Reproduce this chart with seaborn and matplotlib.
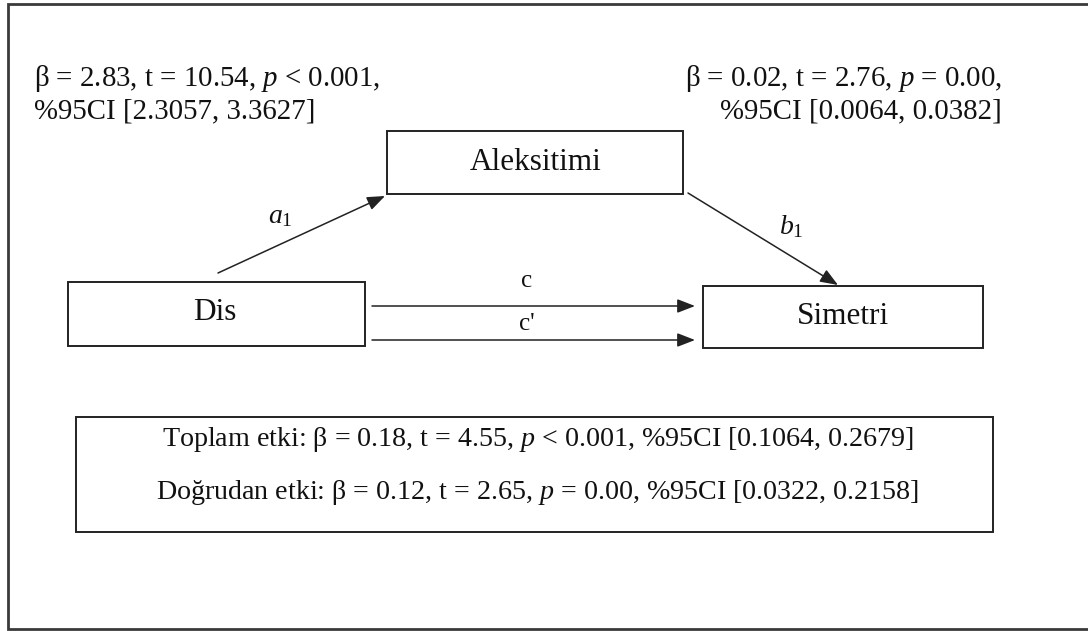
import seaborn as sns
import matplotlib
matplotlib.use("Agg")
import matplotlib.pyplot as plt
from matplotlib.patches import Rectangle

# model variables
node_names = ["Dis", "Aleksitimi", "Simetri"]
path_names = ["$a_1$", "$b_1$", "c", "c'"]

# path statistics
stats_a = ["β = 2.83, t = 10.54, $p$ < 0.001,", "%95CI [2.3057, 3.3627]"]
stats_b = ["β = 0.02, t = 2.76, $p$ = 0.00,", "%95CI [0.0064, 0.0382]"]
effects = ["Toplam etki: β = 0.18, t = 4.55, $p$ < 0.001, %95CI [0.1064, 0.2679]",
           "Doğrudan etki: β = 0.12, t = 2.65, $p$ = 0.00, %95CI [0.0322, 0.2158]"]

sns.set_theme(style="white")
plt.rcParams['font.family'] = ['Liberation Serif', 'DejaVu Serif']
plt.rcParams['mathtext.fontset'] = 'custom'
plt.rcParams['mathtext.rm'] = 'Liberation Serif'
plt.rcParams['mathtext.it'] = 'Liberation Serif:italic'

W, H = 1088, 631
fig = plt.figure(figsize=(W / 100, H / 100), dpi=100)
ax = fig.add_axes([0, 0, 1, 1])
ax.set_xlim(0, W)
ax.set_ylim(H, 0)
ax.axis('off')

# outer frame (open on the right)
frame_col = '#3a3a3a'
ax.plot([W, 8, 8, W], [4, 4, 629, 629], color=frame_col, lw=2, solid_joinstyle='miter')

# boxes: x0, y0, x1, y1
boxes = {
    "Dis": (68, 282, 365, 346),
    "Aleksitimi": (387, 131, 683, 194),
    "Simetri": (703, 286, 983, 348),
}
label_pos = {"Dis": (215, 313), "Aleksitimi": (536, 163), "Simetri": (843, 317)}
for name in node_names:
    x0, y0, x1, y1 = boxes[name]
    ax.add_patch(Rectangle((x0, y0), x1 - x0, y1 - y0, fill=False,
                           edgecolor='#222222', lw=1.4))
    lx, ly = label_pos[name]
    ax.text(lx, ly, name, ha='center', va='center', fontsize=22.5, color='#111111')

# arrows
arrows = [((218, 273), (385, 196)),
          ((688, 193), (838, 285)),
          ((372, 306), (695, 306)),
          ((372, 340), (695, 340))]
for (sx, sy), (ex, ey) in arrows:
    ax.annotate('', xy=(ex, ey), xytext=(sx, sy),
                arrowprops=dict(arrowstyle='-|>,head_length=0.9,head_width=0.35',
                                color='#222222', lw=1.1, shrinkA=0, shrinkB=0))

path_pos = [(280, 217), (791, 227), (527, 281), (527, 324)]
path_size = [20, 20, 18, 18]
for lab, (px, py), fs in zip(path_names, path_pos, path_size):
    ax.text(px, py, lab, ha='center', va='center', fontsize=fs, color='#111111')

# stats text
for i, line in enumerate(stats_a):
    ax.text(34, 86 + 32 * i, line, ha='left', va='baseline', fontsize=20.8, color='#111111')
for i, line in enumerate(stats_b):
    ax.text(1002, 86 + 32 * i, line, ha='right', va='baseline', fontsize=20.8, color='#111111')

# effects box
ax.add_patch(Rectangle((76, 417), 993 - 76, 532 - 417, fill=False,
                       edgecolor='#222222', lw=1.4))
for i, line in enumerate(effects):
    ax.text(538, 446 + 53 * i, line, ha='center', va='baseline', fontsize=20.2, color='#111111')

fig.savefig('out.png', dpi=100)
